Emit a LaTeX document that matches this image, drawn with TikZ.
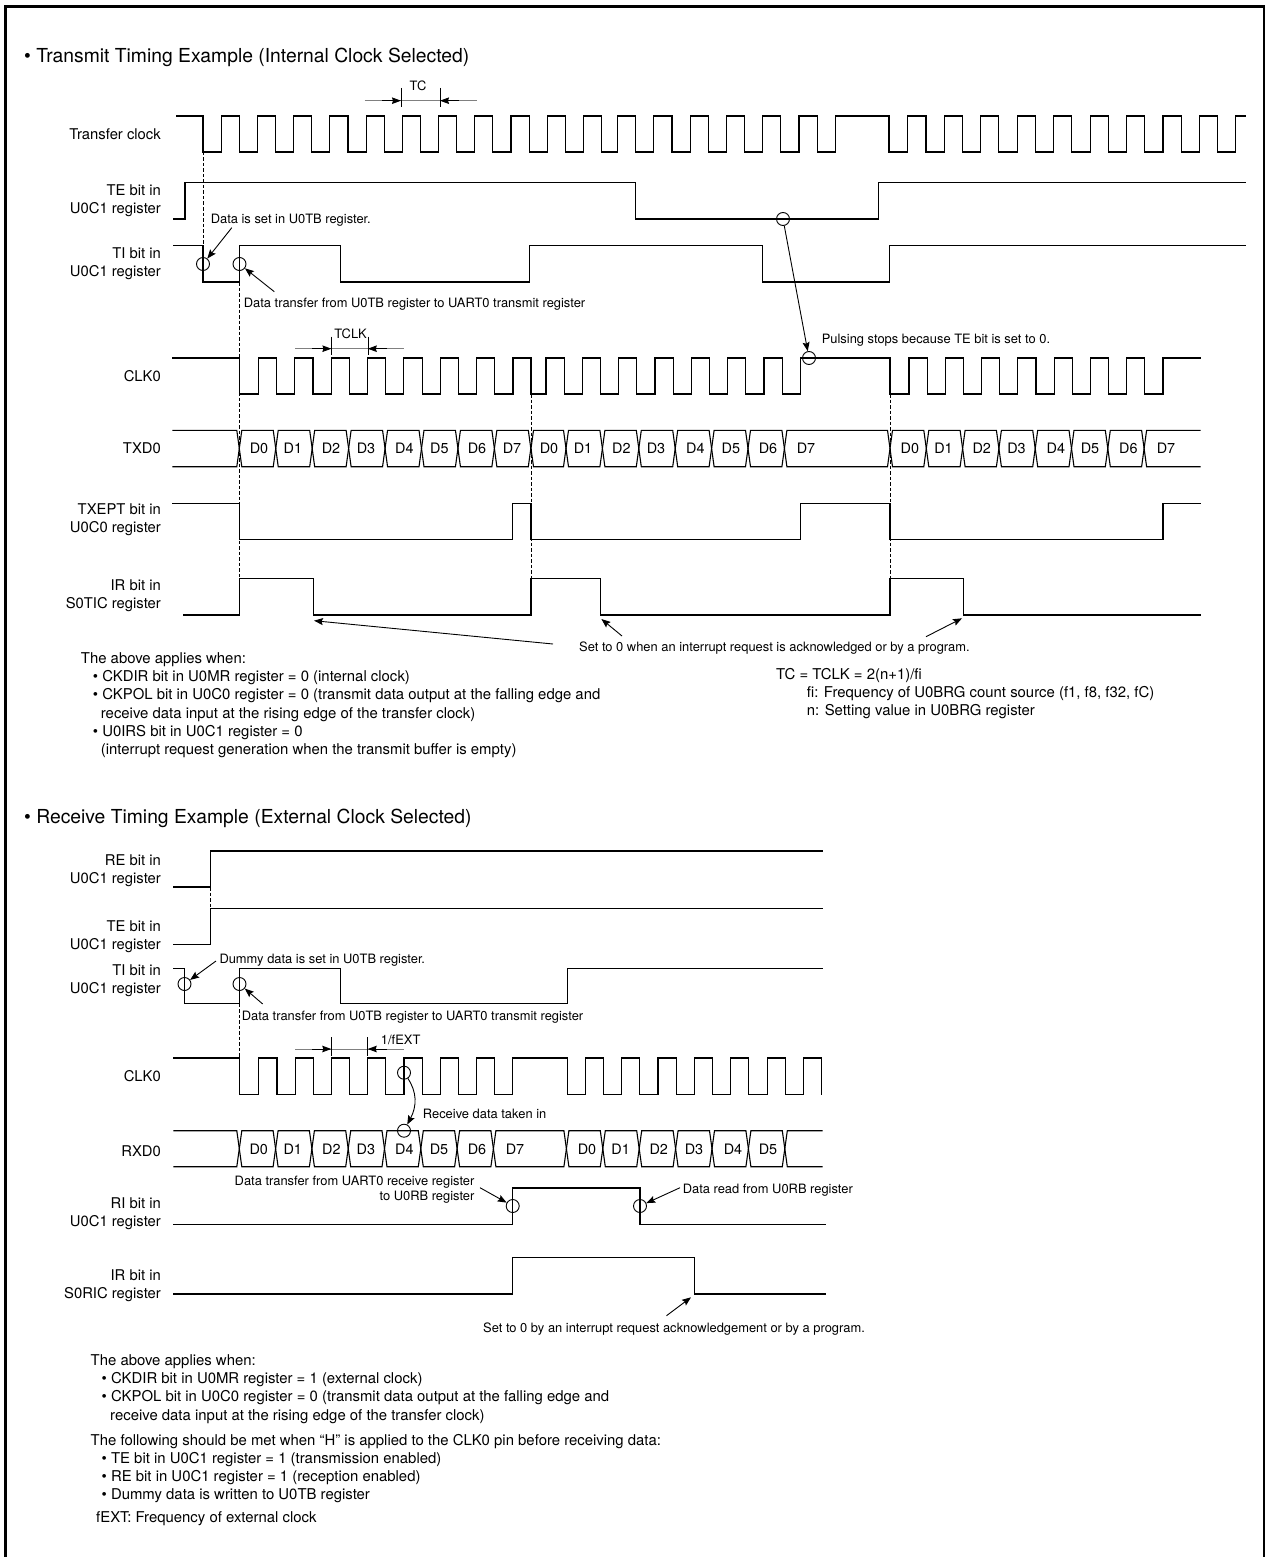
\documentclass[tikz,border=0pt]{standalone}
\usepackage{fontspec}
\setmainfont{TeX Gyre Heros}
\usetikzlibrary{arrows.meta}

\newcommand{\clkburst}[5]{
  \foreach \k in {1,...,#2} {
    \draw[sig] ({#1+#3*(\k-1)},#5) -- ({#1+#3*(\k-1)},#4) -- ({#1+#3*(\k-0.5)},#4) -- ({#1+#3*(\k-0.5)},#5) -- ({#1+#3*\k},#5);
  }
}
\newcommand{\buscell}[4]{
  \draw[sig] ({#1+2.5},#3) -- ({#2-2.5},#3) -- ({#2},{(#3+#4)/2}) -- ({#2-2.5},#4) -- ({#1+2.5},#4) -- ({#1},{(#3+#4)/2}) -- cycle;
}

\tikzset{
  sig/.style={line width=1.1pt, black, line cap=rect, line join=miter},
  syncline/.style={line width=0.9pt, black, dash pattern=on 3.5pt off 2pt},
  ring/.style={circle, draw=black, line width=0.9pt, inner sep=0pt, minimum size=13pt},
  callout/.style={line width=0.9pt, black, -{Stealth[length=9pt,width=7pt,inset=1.5pt]}},
  dimbar/.style={line width=0.9pt, gray},
  dimtip/.style={line width=0.9pt, black, -{Stealth[length=9pt,width=6.5pt,inset=1pt]}},
  dimtick/.style={line width=0.6pt, black},
  siglabel/.style={anchor=north east, align=right, inner sep=0pt, font=\fontsize{14.8}{18.2}\selectfont},
  note/.style={anchor=base west, inner sep=0pt, font=\fontsize{12.9}{15}\selectfont},
  noteright/.style={anchor=base east, inner sep=0pt, font=\fontsize{12.9}{15}\selectfont},
  block/.style={anchor=north west, align=left, inner sep=0pt, font=\fontsize{14.9}{18.1}\selectfont},
  heading/.style={anchor=base west, inner sep=0pt, font=\fontsize{19.3}{20}\selectfont},
  bustext/.style={inner sep=0pt, font=\fontsize{14.4}{16}\selectfont},
}

\begin{document}
\begin{tikzpicture}[x=1pt, y=-1pt]
    \useasboundingbox (0,0) rectangle (1265,1557);
    \draw[line width=3pt, black] (5,1557) -- (5,7) -- (1264,7) -- (1264,1557);

    \node[heading] (headTx) at (24,63) {• Transmit Timing Example (Internal Clock Selected)};
    \node[heading] (headRx) at (24,823) {• Receive Timing Example (External Clock Selected)};

    % transmit side, labels
    \node[siglabel] (lblClock) at (161,128.7) {Transfer clock};
    \node[siglabel] (lblTE) at (161,184.7) {TE bit in\\U0C1 register};
    \node[siglabel] (lblTI) at (161,247.7) {TI bit in\\U0C1 register};
    \node[siglabel] (lblCLK) at (161,370.7) {CLK0};
    \node[siglabel] (lblTXD) at (161,442.7) {TXD0};
    \node[siglabel] (lblTXEPT) at (161,503.7) {TXEPT bit in\\U0C0 register};
    \node[siglabel] (lblIR) at (161,579.7) {IR bit in\\S0TIC register};

    % transfer clock
    \draw[sig] (177,116) -- (203,116) -- (203,152) -- (221.2,152);
    \clkburst{221.2}{10}{36.22}{116}{152}
    \draw[sig] (583.4,152) -- (583.4,116) -- (601.5,116) -- (601.5,152) -- (617.5,152);
    \clkburst{617.5}{6}{36.3}{116}{152}
    \draw[sig] (835.3,152) -- (835.3,116) -- (889,116) -- (889,152) -- (907.8,152);
    \clkburst{907.8}{9}{36.45}{116}{152}
    \draw[sig] (1235.9,152) -- (1235.9,116) -- (1245.6,116);

    \draw[sig] (174,219) -- (185,219) -- (185,182.7) -- (635.5,182.7) -- (635.5,219) -- (878.7,219) -- (878.7,182.7) -- (1245.6,182.7);
    \draw[sig] (174,245.7) -- (203,245.7) -- (203,282) -- (239.3,282) -- (239.3,245.7) -- (340.4,245.7) -- (340.4,282) -- (529.4,282) -- (529.4,245.7) -- (762.4,245.7) -- (762.4,282) -- (889.6,282) -- (889.6,245.7) -- (1245.6,245.7);

    % CLK0
    \draw[sig] (173,358) -- (239.3,358) -- (239.3,394) -- (258.5,394);
    \clkburst{258.5}{7}{36.35}{358}{394}
    \draw[sig] (513,394) -- (513,358) -- (531,358) -- (531,394) -- (546,394);
    \clkburst{546}{7}{36.33}{358}{394}
    \draw[sig] (800.3,394) -- (800.3,358) -- (890,358) -- (890,394) -- (909,394);
    \clkburst{909}{7}{36.29}{358}{394}
    \draw[sig] (1163,394) -- (1163,358) -- (1200,358);

    % TXD0
    \draw[sig] (173,430.3) -- (236.8,430.3) -- (239.3,448.5) -- (236.8,466.7) -- (173,466.7);
    \foreach \k in {0,...,7} {
      \buscell{239.3+36.44*\k}{239.3+36.44*(\k+1)}{430.3}{466.7}
    }
    \buscell{531}{566}{430.3}{466.7}
    \foreach \k in {0,...,5} {
      \buscell{566+36.4*\k}{566+36.4*(\k+1)}{430.3}{466.7}
    }
    \buscell{784.4}{890}{430.3}{466.7}
    \foreach \k in {0,...,6} {
      \buscell{890+36.3*\k}{890+36.3*(\k+1)}{430.3}{466.7}
    }
    \draw[sig] (1200,430.3) -- (1146.6,430.3) -- (1144.1,448.5) -- (1146.6,466.7) -- (1200,466.7);
    \foreach \x/\b [count=\i] in {259/0,292.9/1,331/2,366/3,404.3/4,439.3/5,477/6,512/7,549/0,583/1,621.4/2,656/3,695.4/4,730.8/5,768/6,806/7,909.8/0,943.5/1,981.7/2,1016.5/3,1055.8/4,1090/5,1128.4/6,1166/7} {
      \node[bustext] (txd\i) at (\x,448.5) {D\b};
    }

    \draw[sig] (173,503.3) -- (239.3,503.3) -- (239.3,539.3) -- (512.9,539.3) -- (512.9,503.3) -- (531,503.3) -- (531,539.3) -- (800.3,539.3) -- (800.3,503.3) -- (890,503.3) -- (890,539.3) -- (1163,539.3) -- (1163,503.3) -- (1200,503.3);
    \draw[sig] (183.6,615) -- (239.3,615) -- (239.3,578.7) -- (313.2,578.7) -- (313.2,615) -- (531,615) -- (531,578.7) -- (600.4,578.7) -- (600.4,615) -- (890,615) -- (890,578.7) -- (963.3,578.7) -- (963.3,615) -- (1200,615);

    \draw[syncline] (203,152) -- (203,282);
    \draw[syncline] (239.3,282) -- (239.3,578.7);
    \draw[syncline] (531,394) -- (531,578.7);
    \draw[syncline] (890,394) -- (890,578.7);

    % TC and TCLK
    \draw[dimbar] (364.5,100.7) -- (476.7,100.7);
    \draw[dimtip] (382,100.7) -- (401,100.7);
    \draw[dimtip] (459,100.7) -- (440,100.7);
    \draw[dimtick] (401,88) -- (401,107);
    \draw[dimtick] (440,88) -- (440,107);
    \node[note] (lblTC) at (418,90.5) [anchor=base] {TC};
    \draw[dimbar] (295,348.7) -- (404,348.7);
    \draw[dimtip] (312,348.7) -- (331.4,348.7);
    \draw[dimtip] (387,348.7) -- (367.8,348.7);
    \draw[dimtick] (331.4,336.7) -- (331.4,355);
    \draw[dimtick] (367.8,336.7) -- (367.8,355);
    \node[note] (lblTCLK) at (350.6,338.5) [anchor=base] {TCLK};

    % callouts, transmit
    \node[ring] (ringSet) at (203,264) {};
    \node[ring] (ringLoad) at (239.5,264) {};
    \node[ring] (ringTE) at (783,219) {};
    \node[ring] (ringStop) at (809,358) {};
    \node[note] (txtSet) at (210.6,223.5) {Data is set in U0TB register.};
    \node[note] (txtLoad) at (243.7,307.2) {Data transfer from U0TB register to UART0 transmit register};
    \node[note] (txtStop) at (821.6,343.5) {Pulsing stops because TE bit is set to 0.};
    \node[note] (txtClear) at (579,651.5) {Set to 0 when an interrupt request is acknowledged or by a program.};
    \coordinate (setTail) at (231.8,227.7);
    \coordinate (loadTail) at (274.3,291.7);
    \draw[callout] (setTail) -- (ringSet);
    \draw[callout] (loadTail) -- (ringLoad);
    \draw[callout] (ringTE) -- (ringStop);
    \coordinate (clearA) at (553,644);
    \coordinate (clearATip) at (314,620.7);
    \coordinate (clearB) at (622,636);
    \coordinate (clearBTip) at (601.4,619);
    \coordinate (clearC) at (926,636.7);
    \coordinate (clearCTip) at (962,618.3);
    \draw[callout] (clearA) -- (clearATip);
    \draw[callout] (clearB) -- (clearBTip);
    \draw[callout] (clearC) -- (clearCTip);

    \node[block] (notesTx) at (80.7,652.7) {The above applies when:\\
      \hspace*{12pt}• CKDIR bit in U0MR register = 0 (internal clock)\\
      \hspace*{12pt}• CKPOL bit in U0C0 register = 0 (transmit data output at the falling edge and\\
      \hspace*{20pt}receive data input at the rising edge of the transfer clock)\\
      \hspace*{12pt}• U0IRS bit in U0C1 register = 0\\
      \hspace*{20pt}(interrupt request generation when the transmit buffer is empty)};
    \node[block] (notesTC) at (776,668) {TC = TCLK = 2(n+1)/fi\\
      \hspace*{30.6pt}fi: Frequency of U0BRG count source (f1, f8, f32, fC)\\
      \hspace*{30.6pt}n: Setting value in U0BRG register};

    % receive side, labels
    \node[siglabel] (lblRE2) at (161,854.7) {RE bit in\\U0C1 register};
    \node[siglabel] (lblTE2) at (161,920.7) {TE bit in\\U0C1 register};
    \node[siglabel] (lblTI2) at (161,964.7) {TI bit in\\U0C1 register};
    \node[siglabel] (lblCLK2) at (161,1070.7) {CLK0};
    \node[siglabel] (lblRXD) at (161,1145.7) {RXD0};
    \node[siglabel] (lblRI) at (161,1197.7) {RI bit in\\U0C1 register};
    \node[siglabel] (lblIR2) at (161,1269.7) {IR bit in\\S0RIC register};

    \draw[sig] (173.7,887) -- (210.7,887) -- (210.7,851) -- (822,851);
    \draw[sig] (174,944.3) -- (210.7,944.3) -- (210.7,908.3) -- (822,908.3);
    \draw[syncline] (210.7,887) -- (210.7,908.3);
    \draw[sig] (174,968.7) -- (184.3,968.7) -- (184.3,1003.7) -- (239.7,1003.7) -- (239.7,968.7) -- (340.7,968.7) -- (340.7,1003.7) -- (567.3,1003.7) -- (567.3,968.7) -- (822,968.7);
    \draw[syncline] (239.7,1003.7) -- (239.7,1058);

    \draw[sig] (174,1058) -- (239.7,1058) -- (239.7,1094.3) -- (258.8,1094.3);
    \clkburst{258.8}{7}{36.3}{1058}{1094.3}
    \draw[sig] (512.9,1094.3) -- (512.9,1058) -- (567.3,1058) -- (567.3,1094.3) -- (585.3,1094.3);
    \clkburst{585.3}{6}{36.35}{1058}{1094.3}
    \draw[sig] (803.4,1094.3) -- (803.4,1058) -- (821.5,1058) -- (821.5,1094.3);

    % RXD0
    \draw[sig] (174,1130.7) -- (236.8,1130.7) -- (239.3,1148.7) -- (236.8,1166.7) -- (174,1166.7);
    \foreach \k in {0,...,6} {
      \buscell{239.3+36.3*\k}{239.3+36.3*(\k+1)}{1130.7}{1166.7}
    }
    \buscell{493.4}{566.4}{1130.7}{1166.7}
    \foreach \k in {0,...,5} {
      \buscell{566.4+36.4*\k}{566.4+36.4*(\k+1)}{1130.7}{1166.7}
    }
    \draw[sig] (822,1130.7) -- (787.3,1130.7) -- (784.8,1148.7) -- (787.3,1166.7) -- (822,1166.7);
    \foreach \x/\b [count=\i] in {258.8/0,292.8/1,331.4/2,365.8/3,404.4/4,439/5,477/6,515/7,587/0,620.6/1,658.7/2,694/3,733/4,768/5} {
      \node[bustext] (rxd\i) at (\x,1149) {D\b};
    }

    \draw[sig] (174,1224.3) -- (512.7,1224.3) -- (512.7,1188) -- (640,1188) -- (640,1224.3) -- (825,1224.3);
    \draw[sig] (174,1294) -- (512.7,1294) -- (512.7,1257.7) -- (694.5,1257.7) -- (694.5,1294) -- (825,1294);

    % 1/fEXT
    \draw[dimbar] (295,1049) -- (404,1049);
    \draw[dimtip] (312,1049) -- (331.3,1049);
    \draw[dimtip] (387,1049) -- (367.7,1049);
    \draw[dimtick] (331.3,1037) -- (331.3,1056);
    \draw[dimtick] (367.7,1037) -- (367.7,1056);
    \node[note] (lblExt) at (400.7,1044.2) [anchor=base] {1/fEXT};

    % callouts, receive
    \node[ring] (ringDummy) at (184.5,984) {};
    \node[ring] (ringLoad2) at (239.5,984) {};
    \node[ring] (ringEdge) at (404,1072.7) {};
    \node[ring] (ringData) at (404,1130.7) {};
    \node[ring] (ringRI) at (512.7,1206) {};
    \node[ring] (ringRead) at (640,1206) {};
    \node[note] (txtDummy) at (219.3,963.5) {Dummy data is set in U0TB register.};
    \node[note] (txtLoad2) at (241.7,1020.2) {Data transfer from U0TB register to UART0 transmit register};
    \node[note] (txtTaken) at (422.7,1118.5) {Receive data taken in};
    \node[noteright] (txtUart) at (474.6,1185.2) {Data transfer from UART0 receive register};
    \node[noteright] (txtRb) at (474.6,1200.2) {to U0RB register};
    \node[note] (txtRead) at (682.6,1193.5) {Data read from U0RB register};
    \node[note] (txtClear2) at (483,1332.2) {Set to 0 by an interrupt request acknowledgement or by a program.};
    \coordinate (dummyTail) at (216,961);
    \coordinate (load2Tail) at (262.7,1004);
    \coordinate (uartTail) at (480,1187.7);
    \coordinate (readTail) at (680,1187.7);
    \coordinate (clear2Tail) at (666.5,1315.7);
    \coordinate (clear2Tip) at (691,1297.3);
    \draw[callout] (dummyTail) -- (ringDummy);
    \draw[callout] (load2Tail) -- (ringLoad2);
    \draw[callout] (ringEdge) .. controls (417,1092) and (417,1106) .. (ringData);
    \draw[callout] (uartTail) -- (ringRI);
    \draw[callout] (readTail) -- (ringRead);
    \draw[callout] (clear2Tail) -- (clear2Tip);

    \node[block] (notesRx) at (90.5,1354.7) {The above applies when:\\
      \hspace*{11pt}• CKDIR bit in U0MR register = 1 (external clock)\\
      \hspace*{11pt}• CKPOL bit in U0C0 register = 0 (transmit data output at the falling edge and\\
      \hspace*{19.5pt}receive data input at the rising edge of the transfer clock)};
    \node[block] (notesMet) at (90.5,1433.7) {The following should be met when “H” is applied to the CLK0 pin before receiving data:\\
      \hspace*{11pt}• TE bit in U0C1 register = 1 (transmission enabled)\\
      \hspace*{11pt}• RE bit in U0C1 register = 1 (reception enabled)\\
      \hspace*{11pt}• Dummy data is written to U0TB register};
    \node[block] (notesExt) at (96,1511.7) {fEXT: Frequency of external clock};
\end{tikzpicture}
\end{document}
